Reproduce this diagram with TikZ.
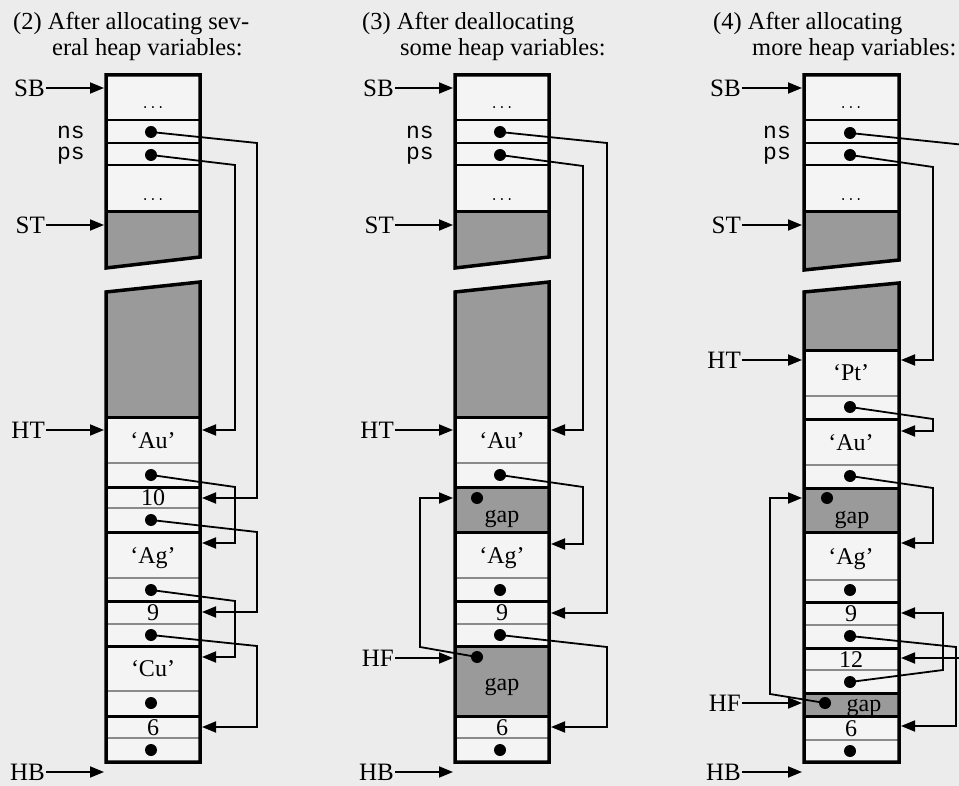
\documentclass[tikz,border=0pt]{standalone}
\usepackage{fontspec}
\setmainfont{Liberation Serif}
\setmonofont{Liberation Mono}
\usetikzlibrary{arrows.meta}
\definecolor{pagebg}{HTML}{ECECEC}
\definecolor{cellbg}{HTML}{F4F4F4}
\definecolor{blockbg}{HTML}{9A9A9A}
\definecolor{sepgray}{HTML}{8A8A8A}
\begin{document}
\begin{tikzpicture}[x=1pt,y=-1pt,
  border/.style={line width=3.5pt, line join=miter},
  thicksep/.style={line width=3pt},
  thinsep/.style={line width=1.1pt, sepgray},
  midsep/.style={line width=1.5pt},
  ptr/.style={line width=1.8pt, line join=miter, -{Triangle[length=14pt,width=11pt]}},
  lblarr/.style={line width=1.8pt, -{Triangle[length=14pt,width=11pt]}},
  dot/.style={circle, fill=black, inner sep=0pt, minimum size=12pt},
  txt/.style={font=\fontsize{24}{28}\selectfont, inner sep=0pt, anchor=base},
  lbl/.style={font=\fontsize{25}{29}\selectfont, inner sep=1pt, anchor=east},
  ttl/.style={font=\fontsize{24.5}{29}\selectfont, inner sep=0pt, anchor=base west},
  var/.style={font=\ttfamily\fontsize{23}{27}\selectfont, inner sep=0pt, anchor=base east},
  ell/.style={font=\ttfamily\fontsize{13}{15}\selectfont, inner sep=0pt, anchor=base},
]
\path[use as bounding box, fill=pagebg] (0,0) rectangle (959,786);
\clip (0,0) rectangle (959,786);

% ---------------- titles ----------------
\node[ttl] (t2a) at (13,30) {(2) After allocating sev-};
\node[ttl] (t2b) at (52,56) {eral heap variables:};
\node[ttl] (t3a) at (362,30) {(3) After deallocating};
\node[ttl] (t3b) at (400,56) {some heap variables:};
\node[ttl] (t4a) at (713,30) {(4) After allocating};
\node[ttl] (t4b) at (752,56) {more heap variables:};

% ================= column 1 =================
\fill[cellbg] (106,75) rectangle (200,212);
\fill[blockbg] (106,212) -- (200,212) -- (200,257) -- (106,268) -- cycle;
\draw[midsep] (106,120) -- (200,120) (106,143) -- (200,143) (106,165) -- (200,165);
\draw[thicksep] (106,212) -- (200,212);
\draw[border] (106,75) -- (200,75) -- (200,257) -- (106,268) -- cycle;
\fill[blockbg] (106,292) -- (200,282) -- (200,417) -- (106,417) -- cycle;
\fill[cellbg] (106,417) rectangle (200,762);
\foreach \y in {463,508,578,624,691,738} \draw[thinsep] (106,\y) -- (200,\y);
\foreach \y in {417,487,532,601,646,716} \draw[thicksep] (106,\y) -- (200,\y);
\draw[border] (106,292) -- (200,282) -- (200,762) -- (106,762) -- cycle;

\node[ell] (a-e1) at (153,109) {...};
\node[ell] (a-e2) at (153,201) {...};
\node[var] (a-nsl) at (85,139) {ns};
\node[var] (a-psl) at (85,160) {ps};
\node[txt] (a-au) at (153,448) {‘Au’};
\node[txt] (a-10) at (153,505) {10};
\node[txt] (a-ag) at (153,563) {‘Ag’};
\node[txt] (a-9)  at (153,620) {9};
\node[txt] (a-cu) at (153,676) {‘Cu’};
\node[txt] (a-6)  at (153,735) {6};

\node[dot] (a-ns) at (151,132) {};
\node[dot] (a-ps) at (151,155) {};
\node[dot] (a-pau) at (151,475) {};
\node[dot] (a-p10) at (151,520) {};
\node[dot] (a-pag) at (151,590) {};
\node[dot] (a-p9) at (151,635) {};
\node[dot] (a-pcu) at (151,703) {};
\node[dot] (a-p6) at (151,750) {};

\coordinate (a-tau) at (202,430);
\coordinate (a-t10) at (202,498);
\coordinate (a-tag) at (202,543);
\coordinate (a-t9) at (202,612);
\coordinate (a-tcu) at (202,657);
\coordinate (a-t6) at (202,727);
\draw[ptr] (a-ns.center) -- (257,143) |- (a-t10);
\draw[ptr] (a-ps.center) -- (235,165) |- (a-tau);
\draw[ptr] (a-pau.center) -- (235,487) |- (a-tag);
\draw[ptr] (a-p10.center) -- (257,532) |- (a-t9);
\draw[ptr] (a-pag.center) -- (235,601) |- (a-tcu);
\draw[ptr] (a-p9.center) -- (257,646) |- (a-t6);

\node[lbl] (a-SB) at (46,88) {SB};
\node[lbl] (a-ST) at (46,225) {ST};
\node[lbl] (a-HT) at (46,430) {HT};
\node[lbl] (a-HB) at (46,772) {HB};
\coordinate (a-SBt) at (104,88);
\coordinate (a-STt) at (104,225);
\coordinate (a-HTt) at (104,430);
\coordinate (a-HBt) at (104,772);
\draw[lblarr] (a-SB) -- (a-SBt);
\draw[lblarr] (a-ST) -- (a-STt);
\draw[lblarr] (a-HT) -- (a-HTt);
\draw[lblarr] (a-HB) -- (a-HBt);

% ================= column 2 =================
\fill[cellbg] (455,75) rectangle (549,212);
\fill[blockbg] (455,212) -- (549,212) -- (549,257) -- (455,268) -- cycle;
\draw[midsep] (455,120) -- (549,120) (455,143) -- (549,143) (455,165) -- (549,165);
\draw[thicksep] (455,212) -- (549,212);
\draw[border] (455,75) -- (549,75) -- (549,257) -- (455,268) -- cycle;
\fill[blockbg] (455,292) -- (549,282) -- (549,417) -- (455,417) -- cycle;
\fill[cellbg] (455,417) rectangle (549,762);
\fill[blockbg] (455,487) rectangle (549,532);
\fill[blockbg] (455,646) rectangle (549,716);
\foreach \y in {463,578,624,738} \draw[thinsep] (455,\y) -- (549,\y);
\foreach \y in {417,487,532,601,646,716} \draw[thicksep] (455,\y) -- (549,\y);
\draw[border] (455,292) -- (549,282) -- (549,762) -- (455,762) -- cycle;

\node[ell] (b-e1) at (502,109) {...};
\node[ell] (b-e2) at (502,201) {...};
\node[var] (b-nsl) at (434,139) {ns};
\node[var] (b-psl) at (434,160) {ps};
\node[txt] (b-au) at (502,448) {‘Au’};
\node[txt] (b-g1) at (502,522) {gap};
\node[txt] (b-ag) at (502,563) {‘Ag’};
\node[txt] (b-9)  at (502,620) {9};
\node[txt] (b-g2) at (502,690) {gap};
\node[txt] (b-6)  at (502,735) {6};

\node[dot] (b-ns) at (500,132) {};
\node[dot] (b-ps) at (500,155) {};
\node[dot] (b-pau) at (500,475) {};
\node[dot] (b-pg1) at (477,498) {};
\node[dot] (b-pag) at (500,590) {};
\node[dot] (b-p9) at (500,635) {};
\node[dot] (b-pg2) at (477,657) {};
\node[dot] (b-p6) at (500,750) {};

\coordinate (b-tau) at (551,430);
\coordinate (b-tag) at (551,544);
\coordinate (b-t9) at (551,613);
\coordinate (b-t6) at (551,727);
\coordinate (b-tg1) at (453,498);
\draw[ptr] (b-ns.center) -- (607,143) |- (b-t9);
\draw[ptr] (b-ps.center) -- (583,166) |- (b-tau);
\draw[ptr] (b-pau.center) -- (583,487) |- (b-tag);
\draw[ptr] (b-p9.center) -- (607,647) |- (b-t6);
\draw[ptr] (b-pg2.center) -- (420,647) |- (b-tg1);

\node[lbl] (b-SB) at (395,88) {SB};
\node[lbl] (b-ST) at (395,225) {ST};
\node[lbl] (b-HT) at (395,430) {HT};
\node[lbl] (b-HF) at (395,658) {HF};
\node[lbl] (b-HB) at (395,772) {HB};
\coordinate (b-SBt) at (453,88);
\coordinate (b-STt) at (453,225);
\coordinate (b-HTt) at (453,430);
\coordinate (b-HFt) at (453,658);
\coordinate (b-HBt) at (453,772);
\draw[lblarr] (b-SB) -- (b-SBt);
\draw[lblarr] (b-ST) -- (b-STt);
\draw[lblarr] (b-HT) -- (b-HTt);
\draw[lblarr] (b-HF) -- (b-HFt);
\draw[lblarr] (b-HB) -- (b-HBt);

% ================= column 3 =================
\fill[cellbg] (804,75) rectangle (899,212);
\fill[blockbg] (804,212) -- (899,212) -- (899,260) -- (804,270) -- cycle;
\draw[midsep] (804,120) -- (899,120) (804,143) -- (899,143) (804,165) -- (899,165);
\draw[thicksep] (804,212) -- (899,212);
\draw[border] (804,75) -- (899,75) -- (899,260) -- (804,270) -- cycle;
\fill[blockbg] (804,292) -- (899,283) -- (899,351) -- (804,351) -- cycle;
\fill[cellbg] (804,351) rectangle (899,762);
\fill[blockbg] (804,488) rectangle (899,532);
\fill[blockbg] (804,693) rectangle (899,716);
\foreach \y in {396,465,580,625,670,740} \draw[thinsep] (804,\y) -- (899,\y);
\foreach \y in {351,419,488,532,602,648,693,716} \draw[thicksep] (804,\y) -- (899,\y);
\draw[border] (804,292) -- (899,283) -- (899,762) -- (804,762) -- cycle;

\node[ell] (c-e1) at (851,109) {...};
\node[ell] (c-e2) at (851,201) {...};
\node[var] (c-nsl) at (791,139) {ns};
\node[var] (c-psl) at (791,160) {ps};
\node[txt] (c-pt) at (851,381) {‘Pt’};
\node[txt] (c-au) at (851,450) {‘Au’};
\node[txt] (c-g1) at (852,523) {gap};
\node[txt] (c-ag) at (851,564) {‘Ag’};
\node[txt] (c-9)  at (851,621) {9};
\node[txt] (c-12) at (851,667) {12};
\node[txt] (c-g2) at (864,711) {gap};
\node[txt] (c-6)  at (851,736) {6};

\node[dot] (c-ns) at (850,133) {};
\node[dot] (c-ps) at (850,155) {};
\node[dot] (c-ppt) at (850,407) {};
\node[dot] (c-pau) at (850,476) {};
\node[dot] (c-pg1) at (827,498) {};
\node[dot] (c-pag) at (850,590) {};
\node[dot] (c-p9) at (850,636) {};
\node[dot] (c-p12) at (850,682) {};
\node[dot] (c-pg2) at (825,703) {};
\node[dot] (c-p6) at (850,751) {};

\coordinate (c-tpt) at (901,360);
\coordinate (c-tau) at (901,431);
\coordinate (c-tag) at (901,543);
\coordinate (c-t9) at (901,613);
\coordinate (c-t12) at (901,658);
\coordinate (c-t6) at (901,726);
\coordinate (c-tg1) at (802,498);
\draw[ptr] (c-ns.center) -- (965,145) |- (c-t12);
\draw[ptr] (c-ps.center) -- (933,167) |- (c-tpt);
\draw[ptr] (c-ppt.center) -- (933,419) |- (c-tau);
\draw[ptr] (c-pau.center) -- (933,488) |- (c-tag);
\draw[ptr] (c-p9.center) -- (956,647) |- (c-t6);
\draw[ptr] (c-p12.center) -- (943,670) |- (c-t9);
\draw[ptr] (c-pg2.center) -- (770,694) |- (c-tg1);

\node[lbl] (c-SB) at (742,88) {SB};
\node[lbl] (c-ST) at (742,225) {ST};
\node[lbl] (c-HT) at (742,360) {HT};
\node[lbl] (c-HF) at (742,703) {HF};
\node[lbl] (c-HB) at (742,772) {HB};
\coordinate (c-SBt) at (802,88);
\coordinate (c-STt) at (802,225);
\coordinate (c-HTt) at (802,360);
\coordinate (c-HFt) at (802,703);
\coordinate (c-HBt) at (802,772);
\draw[lblarr] (c-SB) -- (c-SBt);
\draw[lblarr] (c-ST) -- (c-STt);
\draw[lblarr] (c-HT) -- (c-HTt);
\draw[lblarr] (c-HF) -- (c-HFt);
\draw[lblarr] (c-HB) -- (c-HBt);
\end{tikzpicture}
\end{document}
